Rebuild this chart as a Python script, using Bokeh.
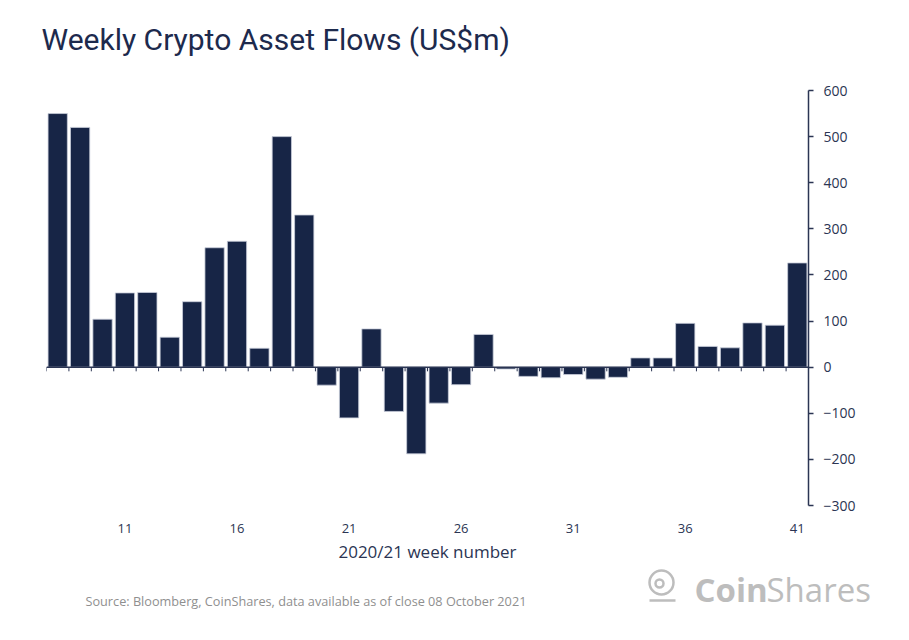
from bokeh.plotting import figure
from bokeh.layouts import column
from bokeh.models import LinearAxis, FixedTicker, Range1d, ColumnDataSource, Span
from bokeh.core.properties import value
from bokeh.embed import file_html
from bokeh.resources import INLINE

# ---- data ----
weeks = list(range(8, 42))
flows = [550, 520, 104, 161, 162, 65, 142, 259, 273, 41, 500, 330,
         -39, -110, 83, -96, -188, -78, -38, 71, -4, -20, -23, -16,
         -26, -22, 20, 20, 95, 45, 42, 96, 91, 226]
x_tick_labels = [11, 16, 21, 26, 31, 36, 41]
y_ticks = [-300, -200, -100, 0, 100, 200, 300, 400, 500, 600]
title_text = "Weekly Crypto Asset Flows (US$m)"
x_title = "2020/21 week number"
source_text = "Source: Bloomberg, CoinShares, data available as of close 08 October 2021"

NAVY = "#172546"
AXIS = "#2b3553"
GREY = "#8f8f8f"
LOGO = "#bdbdbd"
FONT = "Open Sans"
W = 893
FRAME_L, FRAME_R = 46, 808   # pixel columns of the chart frame


def blank(height):
    # strip whose frame is aligned with the chart frame; data units = pixels
    f = figure(width=W, height=height, output_backend="svg", toolbar_location=None,
               x_range=Range1d(FRAME_L, FRAME_R), y_range=Range1d(0, height),
               x_axis_location=None, y_axis_location=None, min_border=0)
    f.grid.visible = False
    f.outline_line_color = None
    return f


# ---- title strip ----
t = blank(80)
t.text(x=[41], y=[80 - 39], text=[title_text], text_font=value("Roboto"),
       text_font_size="30px", text_color="#1d2a4d", text_baseline="middle",
       level="overlay")

# ---- main chart ----
src = ColumnDataSource(dict(week=weeks, flow=flows,
                            edge=[w - 0.5 for w in weeks]))

p = figure(width=W, height=485, output_backend="svg", toolbar_location=None,
           x_range=Range1d(weeks[0] - 0.5, weeks[-1] + 0.5),
           y_range=Range1d(y_ticks[0], y_ticks[-1]),
           x_axis_location=None, y_axis_location=None,
           min_border_left=FRAME_L, min_border_right=W - FRAME_R, min_border_top=10,
           min_border_bottom=53)
p.grid.visible = False
p.outline_line_color = None

p.vbar(x="week", top="flow", bottom=0, width=0.86, source=src,
       fill_color=NAVY, line_color="#c9cedb", line_width=0.8)

# zero line with small ticks at bar boundaries
p.add_layout(Span(location=0, dimension="width", line_color=AXIS, line_width=1.5))
p.segment(x0="edge", y0=0, x1="edge", y1=-9, source=src,
          line_color=AXIS, line_width=1)

label_axis = LinearAxis(ticker=FixedTicker(ticks=x_tick_labels),
                        axis_line_color=None, major_tick_line_color=None,
                        minor_tick_line_color=None,
                        major_label_standoff=12,
                        major_label_text_font=FONT,
                        major_label_text_font_size="13px",
                        major_label_text_color=AXIS,
                        axis_label=x_title,
                        axis_label_text_font=FONT,
                        axis_label_text_font_size="17px",
                        axis_label_text_font_style="normal",
                        axis_label_text_color=AXIS,
                        axis_label_standoff=4)
p.add_layout(label_axis, "below")

y_axis = LinearAxis(ticker=FixedTicker(ticks=y_ticks),
                    axis_line_color=AXIS, axis_line_width=1.5,
                    major_tick_line_color=AXIS, major_tick_line_width=1.5,
                    major_tick_in=0, major_tick_out=5,
                    minor_tick_line_color=None,
                    major_label_standoff=10,
                    major_label_text_font=FONT,
                    major_label_text_font_size="14px",
                    major_label_text_color=AXIS,
                    major_label_text_align="left")
p.add_layout(y_axis, "right")

# ---- footer strip ----
fh = 59
f = blank(fh)
f.text(x=[85], y=[fh - 35], text=[source_text], text_font=value(FONT),
       text_font_size="12.7px", text_color=GREY, text_baseline="middle",
       level="overlay")
# logo mark
f.circle(x=[661], y=[fh - 17], radius=12, fill_color=None,
         line_color=LOGO, line_width=2.5, level="overlay")
f.circle(x=[659], y=[fh - 18], radius=4, fill_color=None,
         line_color=LOGO, line_width=2.5, level="overlay")
f.segment(x0=[649], y0=[fh - 35], x1=[675], y1=[fh - 35],
          line_color=LOGO, line_width=2.5, level="overlay")
f.text(x=[694], y=[fh - 24], text=["Coin"], text_font=value(FONT),
       text_font_size="33px", text_font_style="bold", text_color=LOGO,
       text_baseline="middle", level="overlay")
f.text(x=[766], y=[fh - 24], text=["Shares"], text_font=value(FONT),
       text_font_size="33px", text_color=LOGO, text_baseline="middle",
       level="overlay")

layout = column(t, p, f, spacing=0)
open("out.html", "w").write(file_html(layout, INLINE))
